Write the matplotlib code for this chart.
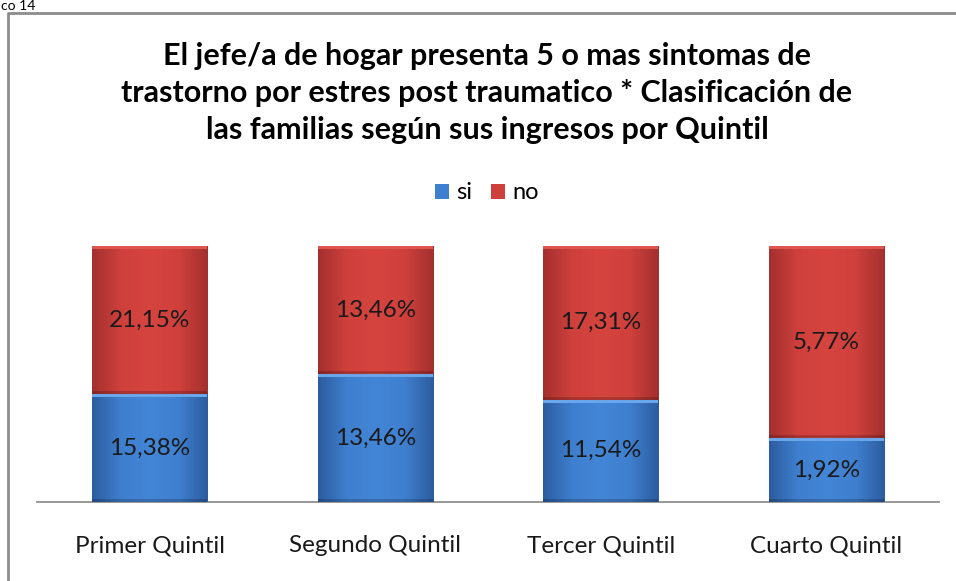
import numpy as np
import matplotlib
matplotlib.use("Agg")
import matplotlib.pyplot as plt
from matplotlib.patches import Rectangle
from matplotlib.colors import LinearSegmentedColormap

plt.rcParams['font.family'] = ['Lato', 'DejaVu Sans']

categories = ['Primer Quintil', 'Segundo Quintil', 'Tercer Quintil', 'Cuarto Quintil']
si_vals = [15.38, 13.46, 11.54, 1.92]
no_vals = [21.15, 13.46, 17.31, 5.77]
title = ('El jefe/a de hogar presenta 5 o mas sintomas de\n'
         'trastorno por estres post traumatico * Clasificación de\n'
         'las familias según sus ingresos por Quintil')

si = np.array(si_vals)
no = np.array(no_vals)
tot = si + no
si_frac = si / tot
no_frac = no / tot

fig = plt.figure(figsize=(9.56, 5.81), dpi=100)
W, H = 956, 581

# chart border (cut off on the right and bottom)
frame = fig.add_axes([0, 0, 1, 1])
frame.set_xlim(0, W)
frame.set_ylim(H, 0)
frame.axis('off')
frame.plot([8.5, 8.5, 960], [590, 12.5, 12.5], color='#8c8c8c', lw=2)
frame.text(1, 0, 'co 14', fontsize=10, va='top', ha='left', color='black')

ax = fig.add_axes([37 / W, 1 - 502 / H, (939 - 37) / W, (502 - 246) / H])
ax.set_xlim(-0.5, 3.5)
ax.set_ylim(0, 1.0)
x = np.arange(len(categories))
bw = 0.51

blue_cmap = LinearSegmentedColormap.from_list('b', ['#2c5c9e', '#3f7fcf', '#4385d6', '#3f7fcf', '#2c5c9e'])
red_cmap = LinearSegmentedColormap.from_list('r', ['#a3302e', '#cf403c', '#d6443f', '#cf403c', '#a3302e'])

b1 = ax.bar(x, si_frac, bw, color='#3f7fcf', zorder=2)
b2 = ax.bar(x, no_frac, bw, bottom=si_frac, color='#cf403c', zorder=2)

# bevel-like shading
grad = np.linspace(0, 1, 256).reshape(1, -1)
for bars, cmap, top_col in [(b1, blue_cmap, '#6aa6ec'), (b2, red_cmap, '#de5550')]:
    for p in bars:
        x0, y0 = p.get_x(), p.get_y()
        w, h = p.get_width(), p.get_height()
        im = ax.imshow(grad, cmap=cmap, extent=[x0, x0 + w, y0, y0 + h],
                       aspect='auto', zorder=3, interpolation='bicubic')
        im.set_clip_path(p)
        ax.add_patch(Rectangle((x0, y0 + h - 0.012), w, 0.012, color=top_col, zorder=4, lw=0))
        ax.add_patch(Rectangle((x0, y0), w, 0.012, color='#00000030', zorder=4, lw=0))

for i in range(len(categories)):
    ax.text(x[i], si_frac[i] / 2, f'{si_vals[i]:.2f}%'.replace('.', ','),
            ha='center', va='center', fontsize=17.5, color='#1a1a1a', zorder=5)
    ax.text(x[i], si_frac[i] + no_frac[i] / 2, f'{no_vals[i]:.2f}%'.replace('.', ','),
            ha='center', va='center', fontsize=17.5, color='#1a1a1a', zorder=5)

ax.set_xticks(x)
ax.set_xticklabels(categories, fontsize=17.5, color='#1a1a1a')
ax.tick_params(axis='x', length=0, pad=24)
ax.set_yticks([])
for s in ['top', 'right', 'left']:
    ax.spines[s].set_visible(False)
ax.spines['bottom'].set_color('#868686')
ax.spines['bottom'].set_linewidth(1.2)
ax.spines['bottom'].set_zorder(1)

fig.text(487 / W, 1 - 93 / H, title, ha='center', va='center', fontsize=22,
         fontweight='bold', linespacing=1.39, color='black')

# legend
leg = ax.legend([b1, b2], ['si', 'no'], loc='center', bbox_to_anchor=(487 / W, 1 - 193 / H),
                bbox_transform=fig.transFigure, ncol=2, frameon=False, fontsize=17,
                handlelength=0.6, handleheight=0.6, handletextpad=0.3, columnspacing=0.8)

fig.savefig('out.png', dpi=100)
